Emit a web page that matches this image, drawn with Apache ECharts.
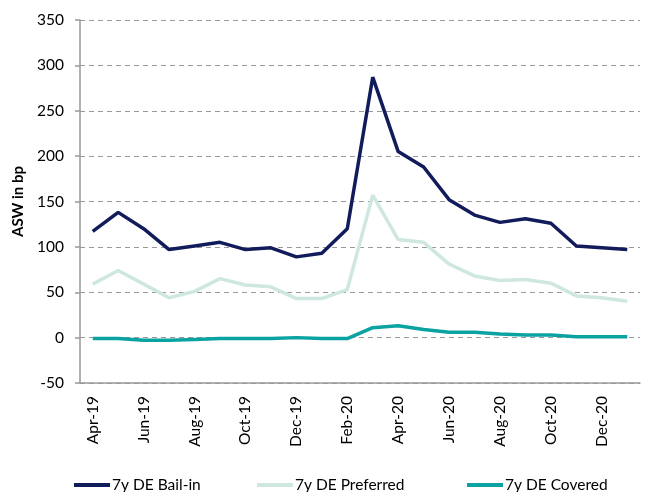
<!DOCTYPE html>
<html>
<head>
<meta charset="utf-8">
<script src="https://cdn.jsdelivr.net/npm/echarts@6/dist/echarts.min.js"></script>
<style>
  html, body { margin: 0; padding: 0; background: #fff; }
  #chart { width: 647px; height: 492px; }
</style>
</head>
<body>
<div id="chart"></div>
<script>
const months = ['Apr-19', 'May-19', 'Jun-19', 'Jul-19', 'Aug-19', 'Sep-19', 'Oct-19', 'Nov-19',
  'Dec-19', 'Jan-20', 'Feb-20', 'Mar-20', 'Apr-20', 'May-20', 'Jun-20', 'Jul-20', 'Aug-20',
  'Sep-20', 'Oct-20', 'Nov-20', 'Dec-20', 'Jan-21']
const bailIn = [117, 138, 120, 97, 101, 105, 97, 99, 89, 93, 120, 287, 205, 188, 152, 135, 127,
  131, 126, 101, 99, 97]
const preferred = [59, 74, 59, 44, 51, 65, 58, 56, 43, 43, 53, 157, 108, 105, 81, 68, 63,
  64, 60, 46, 44, 40]
const covered = [-1, -1, -3, -3, -2, -1, -1, -1, 0, -1, -1, 11, 13, 9, 6, 6, 4,
  3, 3, 1, 1, 1]
const seriesNames = ['7y DE Bail-in', '7y DE Preferred', '7y DE Covered']
const colors = ['#121c5a', '#cfe7e1', '#0ba2a2']

const font = 'Lato, "Open Sans", sans-serif'
const chart = echarts.init(document.getElementById('chart'))

let legendLeft = [69, 252, 462]
let legends = seriesNames.map((name, i) => {
  return {
    data: [name],
    left: legendLeft[i],
    top: 472,
    icon: 'rect',
    itemWidth: 36,
    itemHeight: 4,
    itemGap: 2,
    textStyle: { color: '#000', fontSize: 15.5, fontFamily: font, padding: [0, 0, 0, -3] }
  }
})

let option = {
  animation: false,
  color: colors,
  legend: legends,
  grid: { left: 80, right: 7, top: 20, bottom: 109 },
  xAxis: [
    {
      type: 'category',
      data: months,
      position: 'bottom',
      axisLine: { show: false },
      axisTick: { show: false },
      axisLabel: {
        interval: 1,
        rotate: 90,
        margin: 13,
        color: '#000',
        fontSize: 15.5,
        fontFamily: font
      }
    },
    {
      type: 'category',
      data: months,
      position: 'bottom',
      axisLine: { onZero: true, lineStyle: { color: '#999', width: 1.5 } },
      axisTick: { interval: 1, length: 5, inside: false, lineStyle: { color: '#999', width: 1.5 } },
      axisLabel: { show: false }
    }
  ],
  yAxis: {
    type: 'value',
    min: -50,
    max: 350,
    interval: 50,
    name: 'ASW in bp',
    nameLocation: 'middle',
    nameGap: 50,
    nameTextStyle: { color: '#000', fontSize: 15, fontWeight: 'bold', fontFamily: font },
    axisLine: { show: true, lineStyle: { color: '#999', width: 1.5 } },
    axisTick: { show: true, length: 5, lineStyle: { color: '#999', width: 1.5 } },
    axisLabel: { color: '#000', fontSize: 15.5, fontFamily: font, margin: 16 },
    splitLine: { lineStyle: { color: '#999', type: [5, 4], width: 1.2 } }
  },
  series: [
    { name: seriesNames[0], type: 'line', data: bailIn, symbol: 'none', lineStyle: { width: 3.5 }, z: 4 },
    { name: seriesNames[1], type: 'line', data: preferred, symbol: 'none', lineStyle: { width: 3.5 }, z: 2 },
    { name: seriesNames[2], type: 'line', data: covered, symbol: 'none', lineStyle: { width: 3.5 }, z: 3 }
  ]
}
option && chart.setOption(option)
</script>
</body>
</html>
